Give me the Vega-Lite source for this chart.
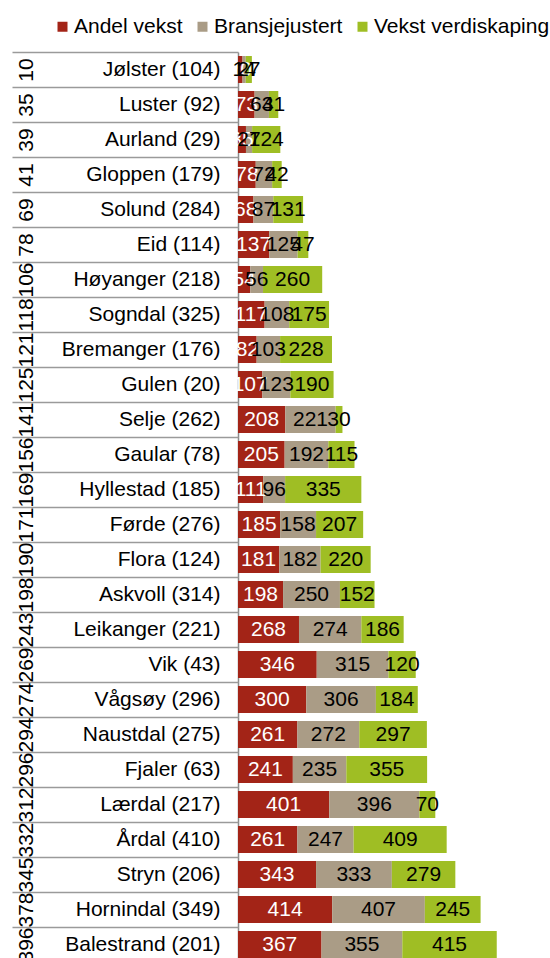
{
  "$schema": "https://vega.github.io/schema/vega-lite/v6.json",
  "width": 312,
  "height": 910,
  "autosize": {"type": "none"},
  "padding": {"left": 238, "top": 52, "right": 0, "bottom": 0},
  "config": {"font": "Liberation Sans", "view": {"stroke": null}},
  "datasets": {
    "rows": [
      {"rank": 10, "name": "Jølster (104)", "a": 20, "b": 14, "c": 27},
      {"rank": 35, "name": "Luster (92)", "a": 73, "b": 63, "c": 41},
      {"rank": 39, "name": "Aurland (29)", "a": 35, "b": 27, "c": 124},
      {"rank": 41, "name": "Gloppen (179)", "a": 78, "b": 72, "c": 42},
      {"rank": 69, "name": "Solund (284)", "a": 68, "b": 87, "c": 131},
      {"rank": 78, "name": "Eid (114)", "a": 137, "b": 125, "c": 47},
      {"rank": 106, "name": "Høyanger (218)", "a": 54, "b": 56, "c": 260},
      {"rank": 118, "name": "Sogndal (325)", "a": 117, "b": 108, "c": 175},
      {"rank": 121, "name": "Bremanger (176)", "a": 82, "b": 103, "c": 228},
      {"rank": 125, "name": "Gulen (20)", "a": 107, "b": 123, "c": 190},
      {"rank": 141, "name": "Selje (262)", "a": 208, "b": 221, "c": 30},
      {"rank": 156, "name": "Gaular (78)", "a": 205, "b": 192, "c": 115},
      {"rank": 169, "name": "Hyllestad (185)", "a": 111, "b": 96, "c": 335},
      {"rank": 171, "name": "Førde (276)", "a": 185, "b": 158, "c": 207},
      {"rank": 190, "name": "Flora (124)", "a": 181, "b": 182, "c": 220},
      {"rank": 198, "name": "Askvoll (314)", "a": 198, "b": 250, "c": 152},
      {"rank": 243, "name": "Leikanger (221)", "a": 268, "b": 274, "c": 186},
      {"rank": 269, "name": "Vik (43)", "a": 346, "b": 315, "c": 120},
      {"rank": 274, "name": "Vågsøy (296)", "a": 300, "b": 306, "c": 184},
      {"rank": 294, "name": "Naustdal (275)", "a": 261, "b": 272, "c": 297},
      {"rank": 296, "name": "Fjaler (63)", "a": 241, "b": 235, "c": 355},
      {"rank": 312, "name": "Lærdal (217)", "a": 401, "b": 396, "c": 70},
      {"rank": 332, "name": "Årdal (410)", "a": 261, "b": 247, "c": 409},
      {"rank": 345, "name": "Stryn (206)", "a": 343, "b": 333, "c": 279},
      {"rank": 378, "name": "Hornindal (349)", "a": 414, "b": 407, "c": 245},
      {"rank": 396, "name": "Balestrand (201)", "a": 367, "b": 355, "c": 415}
    ]
  },
  "data": {"name": "rows"},
  "transform": [
    {"fold": ["a", "b", "c"], "as": ["key", "value"]},
    {"lookup": "key", "from": {"data": {"values": [
      {"key": "a", "series": "Andel vekst"},
      {"key": "b", "series": "Bransjejustert"},
      {"key": "c", "series": "Vekst verdiskaping"}
    ]}, "key": "key", "fields": ["series"]}}
  ],
  "layer": [
    {
      "layer": [
        {
          "mark": {"type": "bar"},
          "encoding": {
            "y": {
              "field": "name", "type": "nominal", "sort": null,
              "scale": {"paddingInner": 0.23, "paddingOuter": 0.115},
              "axis": {
                "orient": "left",
                "title": null, "ticks": false, "tickSize": 0,
                "domain": true, "domainColor": "#8c8c8c", "domainWidth": 1.5,
                "labelFontSize": 21, "labelColor": "#000000",
                "labelPadding": 18, "labelLimit": 300
              }
            },
            "x": {
              "field": "value", "type": "quantitative", "stack": "zero",
              "scale": {"domain": [0, 1371], "nice": false},
              "axis": null
            },
            "color": {
              "field": "series", "type": "nominal",
              "scale": {
                "domain": ["Andel vekst", "Bransjejustert", "Vekst verdiskaping"],
                "range": ["#a32417", "#aa9c86", "#9fbe24"]
              },
              "legend": {
                "orient": "none", "legendX": -186, "legendY": -36,
                "direction": "horizontal", "title": null,
                "symbolType": "square", "symbolSize": 100, "symbolStrokeWidth": 0,
                "labelFontSize": 21, "labelColor": "#000000",
                "columnPadding": 9, "labelOffset": 1, "labelLimit": 300
              }
            },
            "order": {"field": "series", "sort": "ascending"}
          }
        },
        {
          "mark": {"type": "text", "fontSize": 21, "align": "center", "baseline": "middle"},
          "encoding": {
            "y": {
              "field": "name", "type": "nominal", "sort": null,
              "axis": {
                "orient": "left",
                "title": null, "ticks": false, "tickSize": 0,
                "domain": true, "domainColor": "#8c8c8c", "domainWidth": 1.5,
                "labelFontSize": 21, "labelColor": "#000000",
                "labelPadding": 18, "labelLimit": 300
              }
            },
            "x": {"field": "value", "type": "quantitative", "stack": "zero", "bandPosition": 0.5},
            "detail": {"field": "series"},
            "order": {"field": "series", "sort": "ascending"},
            "text": {"field": "value", "type": "quantitative"},
            "color": {
              "condition": {"test": "datum.series === 'Andel vekst'", "value": "#ffffff"},
              "value": "#000000"
            }
          }
        }
      ]
    },
    {
      "mark": {"type": "text", "text": ""},
      "encoding": {
        "y": {
          "field": "rank", "type": "ordinal", "sort": "ascending",
          "scale": {"paddingInner": 0, "paddingOuter": 0},
          "axis": {
            "orient": "left",
            "title": null, "domain": false, "ticks": true, "tickSize": 226,
            "tickColor": "#9a9a9a", "tickWidth": 1.5, "tickBand": "extent",
            "labelAngle": -90, "labelAlign": "center", "labelBaseline": "middle",
            "labelPadding": -14, "labelFontSize": 21, "labelColor": "#000000",
            "labelOverlap": false, "labelBound": false, "labelFlush": false
          }
        }
      }
    }
  ],
  "resolve": {"scale": {"y": "independent"}, "axis": {"y": "independent"}}
}
